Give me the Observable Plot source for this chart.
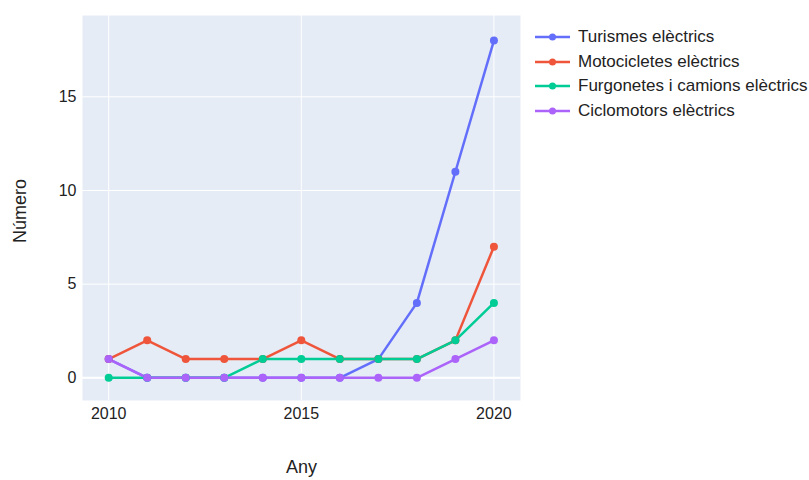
<!DOCTYPE html>
<html>
<head>
<meta charset="utf-8">
<script src="https://cdn.jsdelivr.net/npm/d3@7"></script>
<script src="https://cdn.jsdelivr.net/npm/@observablehq/plot@0.6"></script>
<style>
  body { margin: 0; background: #fff; font-family: "Liberation Sans", Arial, sans-serif; }
  #wrap { position: relative; width: 809px; height: 480px; }
  #legend { position: absolute; left: 533px; top: 25px; font-size: 17px; color: #222; }
  #legend .item { display: flex; align-items: center; height: 24.5px; }
  #legend svg { margin-right: 8px; }
</style>
</head>
<body>
<div id="wrap"><div id="chart"></div><div id="legend"></div></div>
<script>
const years = [2010, 2011, 2012, 2013, 2014, 2015, 2016, 2017, 2018, 2019, 2020];
const seriesNames = ["Turismes elèctrics", "Motocicletes elèctrics", "Furgonetes i camions elèctrics", "Ciclomotors elèctrics"];
const turismes     = [1, 0, 0, 0, 0, 0, 0, 1, 4, 11, 18];
const motocicletes = [1, 2, 1, 1, 1, 2, 1, 1, 1, 2, 7];
const furgonetes   = [0, 0, 0, 0, 1, 1, 1, 1, 1, 2, 4];
const ciclomotors  = [1, 0, 0, 0, 0, 0, 0, 0, 0, 1, 2];
const colors = ["#636efa", "#EF553B", "#00cc96", "#ab63fa"];
const xTicks = [2010, 2015, 2020];
const yTicks = [0, 5, 10, 15];

const allValues = [turismes, motocicletes, furgonetes, ciclomotors];
const data = [];
seriesNames.forEach((name, i) => {
  years.forEach((yr, j) => data.push({serie: name, year: yr, value: allValues[i][j]}));
});

const chart = Plot.plot({
  width: 809,
  height: 480,
  marginLeft: 82,
  marginRight: 289,
  marginTop: 15,
  marginBottom: 80,
  style: {fontFamily: "'Liberation Sans', Arial, sans-serif", fontSize: "16px", color: "#222", background: "#fff"},
  x: {domain: [2009.32, 2020.69], label: null},
  y: {domain: [-1.21, 19.34], label: null},
  color: {domain: seriesNames, range: colors},
  marks: [
    Plot.frame({fill: "#e5ecf6", stroke: null}),
    Plot.gridX(xTicks, {stroke: "#fff", strokeOpacity: 1, strokeWidth: 1}),
    Plot.gridY(yTicks, {stroke: "#fff", strokeOpacity: 1, strokeWidth: 1}),
    Plot.ruleY([0], {stroke: "#fff", strokeWidth: 2}),
    Plot.axisX(xTicks, {tickSize: 0, tickPadding: 7, tickFormat: d => String(d), fontSize: 16, fill: "#222"}),
    Plot.axisY(yTicks, {tickSize: 0, tickPadding: 6, fontSize: 16, fill: "#222"}),
    Plot.line(data, {x: "year", y: "value", z: "serie", stroke: "serie", strokeWidth: 2.5}),
    Plot.dot(data, {x: "year", y: "value", fill: "serie", r: 4, stroke: null}),
    Plot.text(["Any"], {frameAnchor: "bottom", dy: 67, lineAnchor: "middle", fontSize: 18, fill: "#222"}),
    Plot.text(["Número"], {frameAnchor: "left", dx: -62, dy: 3, textAnchor: "middle", rotate: -90, fontSize: 18, fill: "#222"})
  ]
});
document.getElementById("chart").appendChild(chart);

const legend = d3.select("#legend");
seriesNames.forEach((name, i) => {
  const item = legend.append("div").attr("class", "item");
  const s = item.append("svg").attr("width", 37).attr("height", 12);
  s.append("line").attr("x1", 2).attr("x2", 37).attr("y1", 6).attr("y2", 6)
    .attr("stroke", colors[i]).attr("stroke-width", 2.5);
  s.append("circle").attr("cx", 19.5).attr("cy", 6).attr("r", 3.5).attr("fill", colors[i]);
  item.append("span").text(name);
});
</script>
</body>
</html>
